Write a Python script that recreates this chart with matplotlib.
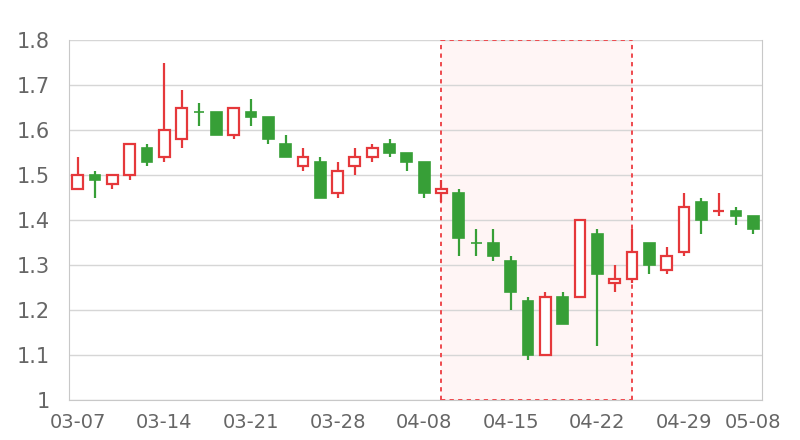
import numpy as np
import matplotlib
matplotlib.use("Agg")
import matplotlib.pyplot as plt
from matplotlib.patches import Rectangle
from matplotlib.ticker import FuncFormatter

# --------------------------------------------------------------
# Data
# --------------------------------------------------------------
dates = ["03-07", "03-08", "03-09", "03-10", "03-11",
         "03-14", "03-15", "03-16", "03-17", "03-18",
         "03-21", "03-22", "03-23", "03-24", "03-25",
         "03-28", "03-29", "03-30", "03-31", "04-01",
         "04-08", "04-09", "04-10", "04-11", "04-12",
         "04-15", "04-16", "04-17", "04-18", "04-19",
         "04-22", "04-23", "04-24", "04-25", "04-26",
         "04-29", "04-30", "05-06", "05-07", "05-08"]

opens = [1.47, 1.50, 1.48, 1.50, 1.56, 1.54, 1.58, 1.64, 1.64, 1.59,
         1.64, 1.63, 1.57, 1.52, 1.53, 1.46, 1.52, 1.54, 1.57, 1.55,
         1.53, 1.46, 1.46, 1.35, 1.35, 1.31, 1.22, 1.10, 1.23, 1.23,
         1.37, 1.26, 1.27, 1.35, 1.29, 1.33, 1.44, 1.42, 1.42, 1.41]
closes = [1.50, 1.49, 1.50, 1.57, 1.53, 1.60, 1.65, 1.64, 1.59, 1.65,
          1.63, 1.58, 1.54, 1.54, 1.45, 1.51, 1.54, 1.56, 1.55, 1.53,
          1.46, 1.47, 1.36, 1.35, 1.32, 1.24, 1.10, 1.23, 1.17, 1.40,
          1.28, 1.27, 1.33, 1.30, 1.32, 1.43, 1.40, 1.42, 1.41, 1.38]
lows = [1.47, 1.45, 1.47, 1.49, 1.52, 1.53, 1.56, 1.61, 1.59, 1.58,
        1.61, 1.57, 1.54, 1.51, 1.45, 1.45, 1.50, 1.53, 1.54, 1.51,
        1.45, 1.44, 1.32, 1.32, 1.31, 1.20, 1.09, 1.10, 1.17, 1.23,
        1.12, 1.24, 1.26, 1.28, 1.28, 1.32, 1.37, 1.41, 1.39, 1.37]
highs = [1.54, 1.51, 1.50, 1.57, 1.57, 1.75, 1.69, 1.66, 1.64, 1.65,
         1.67, 1.63, 1.59, 1.56, 1.54, 1.53, 1.56, 1.57, 1.58, 1.55,
         1.53, 1.49, 1.47, 1.38, 1.38, 1.32, 1.23, 1.24, 1.24, 1.40,
         1.38, 1.30, 1.38, 1.35, 1.34, 1.46, 1.45, 1.46, 1.43, 1.41]

highlight = ("04-09", "04-24")
tick_dates = ["03-07", "03-14", "03-21", "03-28", "04-08",
              "04-15", "04-22", "04-29", "05-08"]

RED = "#e5383b"
GREEN = "#379f37"

# --------------------------------------------------------------
# Plot
# --------------------------------------------------------------
fig = plt.figure(figsize=(8, 4.4), dpi=100)
ax = fig.add_axes([69 / 800, 1 - 400 / 440, 693 / 800, 360 / 440])

x = np.arange(len(dates))
o = np.array(opens)
c = np.array(closes)
prev = np.concatenate([[o[0]], c[:-1]])
up = np.where(c == o, c >= prev, c > o)

# highlighted area
i0, i1 = dates.index(highlight[0]), dates.index(highlight[1])
ax.add_patch(Rectangle((i0, 1.0), i1 - i0, 0.8, facecolor="#fff5f5",
                       edgecolor="none", zorder=0.5))
for xi in (i0, i1):
    ax.plot([xi, xi], [1.0, 1.8], color="#ee4a4e", lw=1.4,
            ls=(0, (2.2, 2.2)), zorder=1)
for yi in (1.0, 1.8):
    ax.plot([i0, i1], [yi, yi], color="#ee4a4e", lw=1.4,
            ls=(0, (2.2, 2.2)), zorder=3)

colors = np.where(up, RED, GREEN)
ax.vlines(x, lows, highs, colors=colors, lw=1.6, zorder=2)
w = 0.62
bottoms = np.minimum(o, c)
heights = np.abs(c - o)
ax.bar(x[up], heights[up], bottom=bottoms[up], width=w, facecolor="white",
       edgecolor=RED, linewidth=1.6, zorder=2.5)
ax.bar(x[~up], heights[~up], bottom=bottoms[~up], width=w, facecolor=GREEN,
       edgecolor=GREEN, linewidth=1.2, zorder=2.5)

ax.set_xlim(-0.5, len(dates) - 0.5)
ax.set_ylim(1.0, 1.8)
ax.set_yticks(np.arange(1.0, 1.81, 0.1))
ax.yaxis.set_major_formatter(FuncFormatter(lambda v, p: f"{v:g}"))
ax.set_xticks([dates.index(d) for d in tick_dates])
ax.set_xticklabels(tick_dates)
ax.grid(axis="y", color="#d6d6d6", lw=1, zorder=0)
ax.set_axisbelow(True)

for s in ax.spines.values():
    s.set_color("#c8c8c8")
ax.spines["top"].set_visible(False)
ax.tick_params(length=0, colors="#666666")
ax.tick_params(axis="y", labelsize=15, pad=14)
ax.tick_params(axis="x", labelsize=14, pad=9)

fig.savefig("out.png", dpi=100)
